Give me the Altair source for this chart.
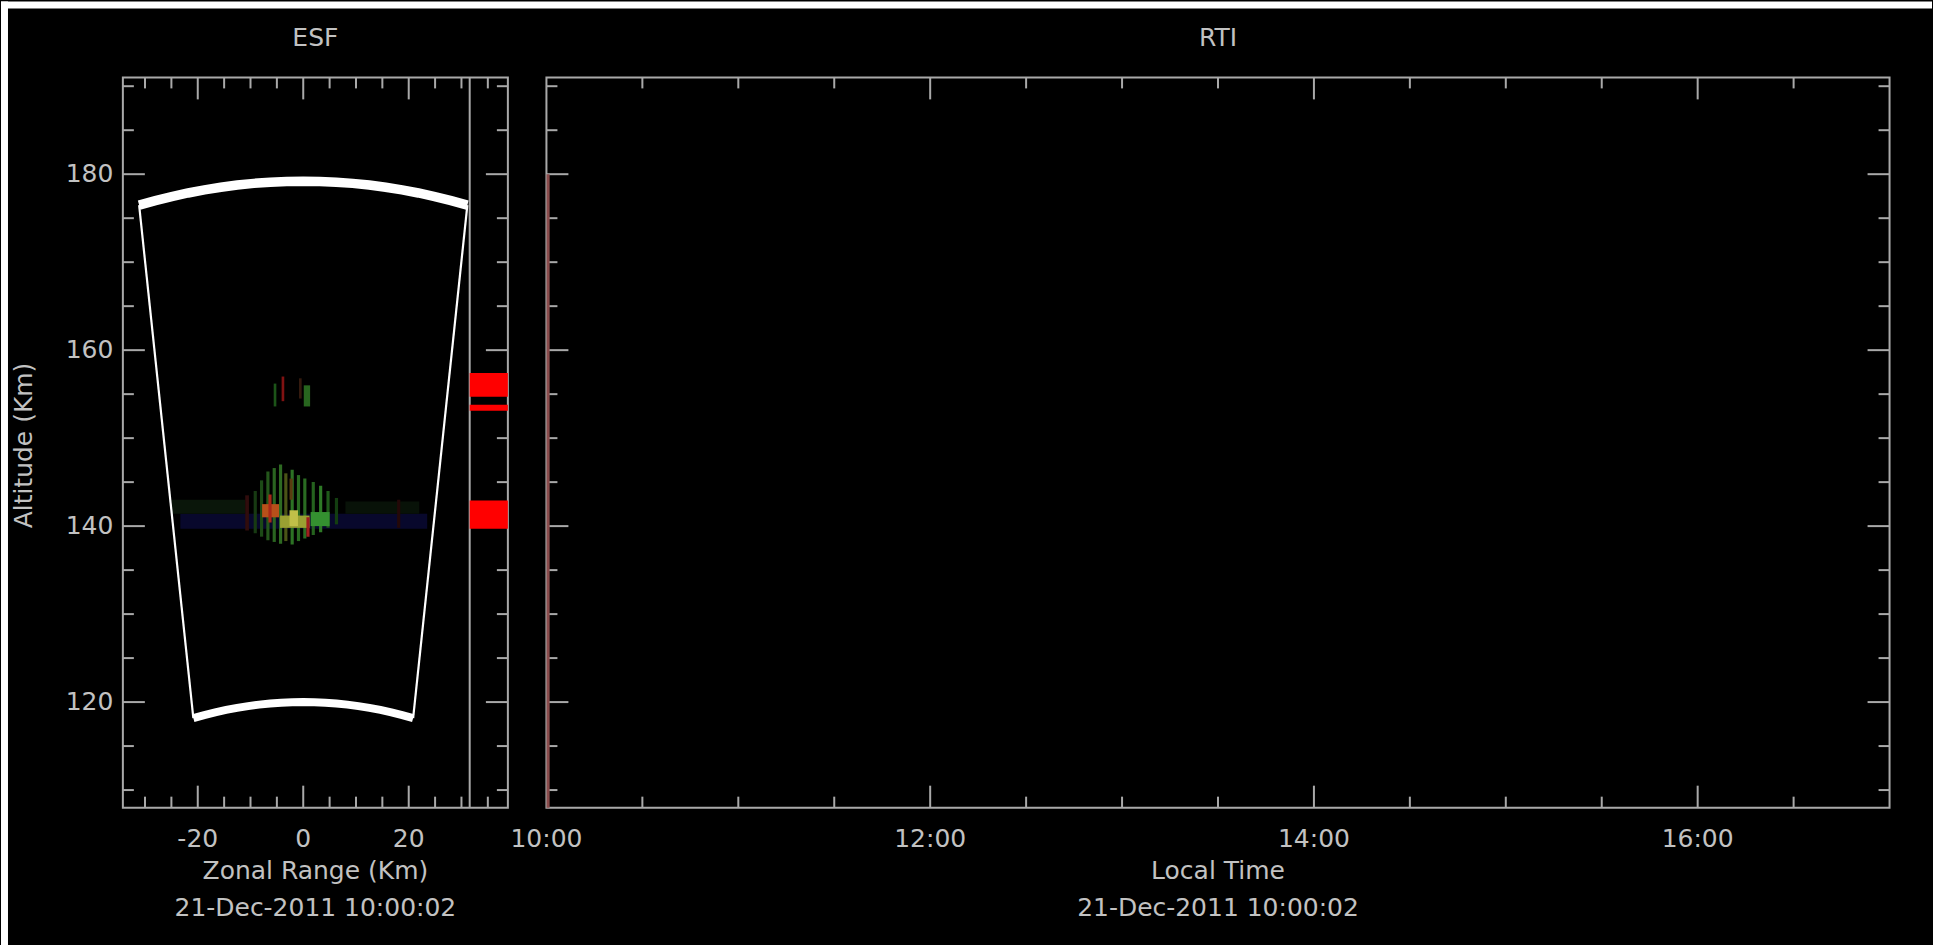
import altair as alt
import pandas as pd

# ---------------- scale domains & tick values ----------------
esf_range_domain = [-34.2, 38.8]      # Zonal range (km)
altitude_domain = [108, 191]          # Altitude (km)
rti_hour_domain = [10, 17]            # Local time (hours)

esf_major_ticks = [-20, 0, 20]
esf_tick_labels = ["-20", "0", "20"]
esf_minor_ticks = [-30, -25, -15, -10, -5, 5, 10, 15, 25, 30, 35]
alt_major_ticks = [120, 140, 160, 180]
alt_tick_labels = ["120", "140", "160", "180"]
alt_minor_ticks = [110, 115, 125, 130, 135, 145, 150, 155, 165, 170, 175, 185, 190]
rti_label_hours = [10, 12, 14, 16]
rti_tick_labels = ["10:00", "12:00", "14:00", "16:00"]
rti_major_ticks = [12, 14, 16]
rti_minor_ticks = [10.5, 11, 11.5, 12.5, 13, 13.5, 14.5, 15, 15.5, 16.5]

esf_title = "ESF"
rti_title = "RTI"
esf_x_title = "Zonal Range (Km)"
rti_x_title = "Local Time"
y_title = "Altitude (Km)"
date_line = "21-Dec-2011 10:00:02"

# ---------------- radar fan geometry ----------------
fan_radius_inner = 120.0
fan_radius_outer = 179.2
fan_angles = [-10, -9, -8, -7, -6, -5, -4, -3, -2, -1, 0, 1, 2, 3, 4, 5, 6, 7, 8, 9, 10]
fan_side_angles = [-10, 10]

# ---------------- side strip with red bars ----------------
strip_divider = 31.56
strip_right = 38.8
bar_alt_low = [154.7, 153.1, 139.7]
bar_alt_high = [157.4, 153.8, 142.9]

# ---------------- ESF echo ----------------
blob_x0 = [-23.3, -25.0, 8.0, -11.0, 17.8,
           -9.4, -8.2, -7.0, -5.8, -4.6, -3.6, -2.4, -1.2, 0.0, 1.6, 3.0, 4.4, 6.0,
           -7.8, -6.6, -4.4, -2.6, 0.6, 1.4, -2.6,
           -5.6, -4.1, -0.8, 0.1]
blob_x1 = [23.5, -11.0, 22.0, -10.3, 18.4,
           -8.8, -7.6, -6.4, -5.2, -4.0, -3.0, -1.8, -0.6, 0.6, 2.2, 3.6, 5.0, 6.6,
           -4.6, -6.0, 1.2, -1.0, 1.2, 5.0, -2.0,
           -5.1, -3.6, -0.3, 1.3]
blob_y0 = [139.7, 141.4, 141.4, 139.5, 139.8,
           139.2, 138.8, 138.4, 138.2, 138.0, 138.3, 137.9, 138.3, 138.6, 139.0, 139.3, 139.8, 140.2,
           141.0, 140.4, 139.8, 140.0, 138.8, 140.0, 143.0,
           153.6, 154.2, 154.5, 153.6]
blob_y1 = [141.4, 143.0, 142.8, 143.5, 143.0,
           144.0, 145.2, 146.2, 146.6, 147.0, 146.0, 146.4, 145.8, 145.4, 145.0, 144.6, 144.0, 143.2,
           142.5, 143.6, 141.2, 141.8, 141.0, 141.6, 145.4,
           156.2, 157.0, 156.8, 156.0]
blob_color = ["#08082c", "#0a160a", "#081208", "#300c0c", "#240808",
              "#173a12", "#1c4a16", "#24561b", "#2a6420", "#2e6a22", "#4a5416", "#2c7224", "#286a20",
              "#2a6c22", "#25621e", "#2e7a26", "#1f5a1a", "#133e10",
              "#b8501a", "#a82818", "#9aa032", "#c0c048", "#a01e1e", "#349030", "#5a3c10",
              "#1c5418", "#801212", "#341a0e", "#28661f"]

# ---------------- RTI echo column ----------------
rti_echo_start = [10.0006]
rti_echo_end = [10.0167]
rti_echo_alt_low = [108.0]
rti_echo_alt_high = [180.0]

# ---------------- styling ----------------
W_ESF, W_RTI, H = 385.4, 1344.5, 731
GAP = 38
LINE = "#a9a9a9"
TEXT = "#c2c2c2"
FONT = "DejaVu Sans"
FS = 25
MAJOR_LEN, MINOR_LEN = 22, 11

xs_esf = alt.Scale(domain=esf_range_domain, nice=False, zero=False)
xs_rti = alt.Scale(domain=rti_hour_domain, nice=False, zero=False)
ys = alt.Scale(domain=altitude_domain, nice=False, zero=False)


def vals(v):
    return pd.DataFrame({"v": v})


def txt(**kw):
    return dict(font=FONT, fontSize=FS, color=TEXT, **kw)


def y_tick_layers(values, width, length):
    left = alt.Chart(vals(values)).mark_rule(color=LINE, strokeWidth=2).encode(
        y=alt.Y("v:Q", scale=ys, axis=None), x=alt.value(0), x2=alt.value(length))
    right = alt.Chart(vals(values)).mark_rule(color=LINE, strokeWidth=2).encode(
        y=alt.Y("v:Q", scale=ys, axis=None), x=alt.value(width), x2=alt.value(width - length))
    return [left, right]


def x_tick_layers(values, scale, length):
    bottom = alt.Chart(vals(values)).mark_rule(color=LINE, strokeWidth=2).encode(
        x=alt.X("v:Q", scale=scale, axis=None), y=alt.value(H), y2=alt.value(H - length))
    top = alt.Chart(vals(values)).mark_rule(color=LINE, strokeWidth=2).encode(
        x=alt.X("v:Q", scale=scale, axis=None), y=alt.value(0), y2=alt.value(length))
    return [bottom, top]


def x_labels(values, labels, scale):
    return alt.Chart(pd.DataFrame({"v": values, "t": labels})).mark_text(
        **txt(align="center", baseline="alphabetic")).encode(
        x=alt.X("v:Q", scale=scale, axis=None), y=alt.value(H + 39.7), text="t:N")


def under_titles(width, first_line):
    one = alt.Chart(pd.DataFrame({"t": [first_line]})).mark_text(
        **txt(align="center", baseline="alphabetic")).encode(
        x=alt.value(width / 2), y=alt.value(H + 71.6), text="t:N")
    two = alt.Chart(pd.DataFrame({"t": [date_line]})).mark_text(
        **txt(align="center", baseline="alphabetic")).encode(
        x=alt.value(width / 2), y=alt.value(H + 108.6), text="t:N")
    return [one, two]


def panel_title(width, text):
    return alt.Chart(pd.DataFrame({"t": [text]})).mark_text(
        **txt(align="center", baseline="alphabetic")).encode(
        x=alt.value(width / 2), y=alt.value(-31.7), text="t:N")


# ---------------- ESF panel ----------------
page_edge = alt.Chart(pd.DataFrame({"k": [0]}))
white_top = page_edge.mark_rect(color="white").encode(
    x=alt.value(-122), x2=alt.value(1811), y=alt.value(-76), y2=alt.value(-69))
white_left = page_edge.mark_rect(color="white").encode(
    x=alt.value(-122), x2=alt.value(-115), y=alt.value(-76), y2=alt.value(869))
black_corner = page_edge.mark_rect(color="black").encode(
    x=alt.value(1800), x2=alt.value(1811), y=alt.value(858), y2=alt.value(869))

blob = alt.Chart(pd.DataFrame({"x0": blob_x0, "x1": blob_x1, "y0": blob_y0, "y1": blob_y1,
                               "c": blob_color})).mark_rect().encode(
    x=alt.X("x0:Q", scale=xs_esf, axis=None), x2="x1:Q",
    y=alt.Y("y0:Q", scale=ys, axis=None), y2="y1:Q",
    color=alt.Color("c:N", scale=None))

arc_rows = []
for edge, r in [("outer", fan_radius_outer), ("inner", fan_radius_inner)]:
    for a in fan_angles:
        arc_rows.append({"edge": edge, "r": r, "a": a})
side_rows = []
for a in fan_side_angles:
    for r in [fan_radius_inner, fan_radius_outer]:
        side_rows.append({"side": str(a), "r": r, "a": a})

polar = dict(px="datum.r * sin(datum.a * PI / 180)", py="datum.r * cos(datum.a * PI / 180)")

arc_base = alt.Chart(pd.DataFrame(arc_rows)).transform_calculate(**polar)
outer_arc = arc_base.transform_filter("datum.edge == 'outer'").mark_line(
    color="white", strokeWidth=9.5, strokeCap="butt").encode(
    x=alt.X("px:Q", scale=xs_esf, axis=None), y=alt.Y("py:Q", scale=ys, axis=None), order="a:Q")
inner_arc = arc_base.transform_filter("datum.edge == 'inner'").mark_line(
    color="white", strokeWidth=8, strokeCap="butt").encode(
    x=alt.X("px:Q", scale=xs_esf, axis=None), y=alt.Y("py:Q", scale=ys, axis=None), order="a:Q")
sides = alt.Chart(pd.DataFrame(side_rows)).transform_calculate(**polar).mark_line(
    color="white", strokeWidth=2.2).encode(
    x=alt.X("px:Q", scale=xs_esf, axis=None), y=alt.Y("py:Q", scale=ys, axis=None),
    detail="side:N", order="r:Q")

divider = alt.Chart(pd.DataFrame({"x": [strip_divider]})).mark_rule(color=LINE, strokeWidth=2).encode(
    x=alt.X("x:Q", scale=xs_esf, axis=None))
bars = alt.Chart(pd.DataFrame({"lo": bar_alt_low, "hi": bar_alt_high,
                               "x0": [strip_divider] * 3, "x1": [strip_right] * 3})).mark_rect(
    color="#ff0000").encode(
    x=alt.X("x0:Q", scale=xs_esf, axis=None), x2="x1:Q",
    y=alt.Y("lo:Q", scale=ys, axis=None), y2="hi:Q")

y_labels = alt.Chart(pd.DataFrame({"v": alt_major_ticks, "t": alt_tick_labels})).mark_text(
    **txt(align="right", baseline="middle")).encode(
    y=alt.Y("v:Q", scale=ys, axis=None), x=alt.value(-9.5), text="t:N")
y_axis_title = alt.Chart(pd.DataFrame({"t": [y_title]})).mark_text(
    **txt(align="center", baseline="alphabetic", angle=270)).encode(
    x=alt.value(-90.5), y=alt.value(H / 2 + 3), text="t:N")

esf_layers = (y_tick_layers(alt_major_ticks, W_ESF, MAJOR_LEN)
              + y_tick_layers(alt_minor_ticks, W_ESF, MINOR_LEN)
              + x_tick_layers(esf_major_ticks, xs_esf, MAJOR_LEN)
              + x_tick_layers(esf_minor_ticks, xs_esf, MINOR_LEN)
              + [white_top, white_left, black_corner, blob, outer_arc, inner_arc, sides, divider, bars,
                 y_labels, y_axis_title, x_labels(esf_major_ticks, esf_tick_labels, xs_esf),
                 panel_title(W_ESF, esf_title)]
              + under_titles(W_ESF, esf_x_title))

esf = alt.layer(*esf_layers).properties(width=W_ESF, height=H)

# ---------------- RTI panel ----------------
echo = alt.Chart(pd.DataFrame({"t0": rti_echo_start, "t1": rti_echo_end,
                               "lo": rti_echo_alt_low, "hi": rti_echo_alt_high})).mark_rect(
    color="#8a4c4c").encode(
    x=alt.X("t0:Q", scale=xs_rti, axis=None), x2="t1:Q",
    y=alt.Y("lo:Q", scale=ys, axis=None), y2="hi:Q")

rti_layers = (x_tick_layers(rti_major_ticks, xs_rti, MAJOR_LEN)
              + x_tick_layers(rti_minor_ticks, xs_rti, MINOR_LEN)
              + y_tick_layers(alt_major_ticks, W_RTI, MAJOR_LEN)
              + y_tick_layers(alt_minor_ticks, W_RTI, MINOR_LEN)
              + [echo, x_labels(rti_label_hours, rti_tick_labels, xs_rti),
                 panel_title(W_RTI, rti_title)]
              + under_titles(W_RTI, rti_x_title))

rti = alt.layer(*rti_layers).properties(width=W_RTI, height=H)

chart = alt.hconcat(esf, rti, spacing=GAP, bounds="flush").properties(
    background="black", padding=0
).configure_view(
    stroke=LINE, strokeWidth=2, fill="black"
)

chart.save("out.html", embed_options={"renderer": "svg", "actions": False})
